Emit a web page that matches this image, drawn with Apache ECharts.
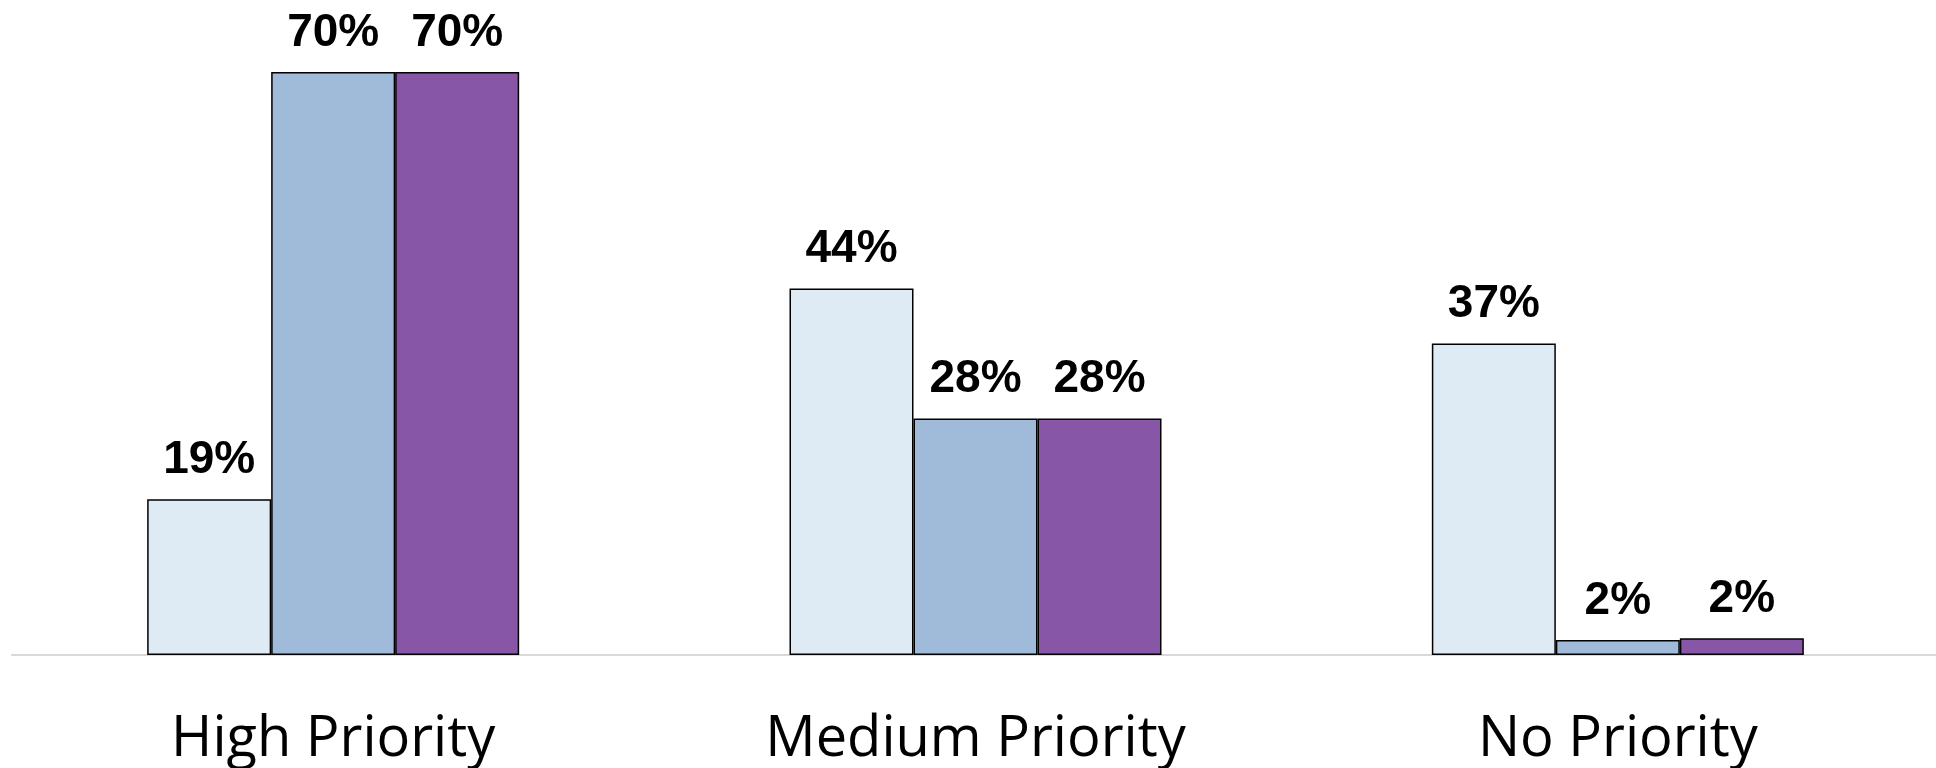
<!DOCTYPE html>
<html>
<head>
<meta charset="utf-8">
<script src="https://cdn.jsdelivr.net/npm/echarts@6/dist/echarts.min.js"></script>
<style>
  html, body { margin: 0; padding: 0; background: #fff; }
  #chart { width: 1936px; height: 768px; }
</style>
</head>
<body>
<div id="chart"></div>
<script>
var categories = ["High Priority", "Medium Priority", "No Priority"];
var seriesA = [18.7, 44.0, 37.4];
var seriesB = [70.0, 28.4, 1.8];
var seriesC = [70.0, 28.4, 2.0];
var colors = ["#DFEBF4", "#A0BBD9", "#8856A6"];

function barSeries(name, data, color) {
  return {
    name: name,
    type: "bar",
    data: data,
    barWidth: 124,
    barGap: "0%",
    itemStyle: { color: color, borderColor: "#000", borderWidth: 1.5 },
    label: {
      show: true,
      position: "top",
      distance: 16,
      formatter: function (p) { return Math.round(p.value) + "%"; },
      fontFamily: "Liberation Sans",
      fontWeight: "bold",
      fontSize: 46,
      color: "#000"
    }
  };
}

var chart = echarts.init(document.getElementById("chart"));
chart.setOption({
  animation: false,
  grid: { left: 12, width: 1927, top: 72, bottom: 113, outerBoundsMode: "none", containLabel: false },
  xAxis: {
    type: "category",
    data: categories,
    axisLine: { lineStyle: { color: "#D9D9D9", width: 2 } },
    axisTick: { show: false },
    axisLabel: {
      fontFamily: "Open Sans",
      fontSize: 56,
      color: "#000",
      margin: 57
    }
  },
  yAxis: {
    type: "value",
    min: 0,
    max: 70,
    show: false,
    splitLine: { show: false }
  },
  series: [
    barSeries("A", seriesA, colors[0]),
    barSeries("B", seriesB, colors[1]),
    barSeries("C", seriesC, colors[2])
  ]
});
</script>
</body>
</html>
